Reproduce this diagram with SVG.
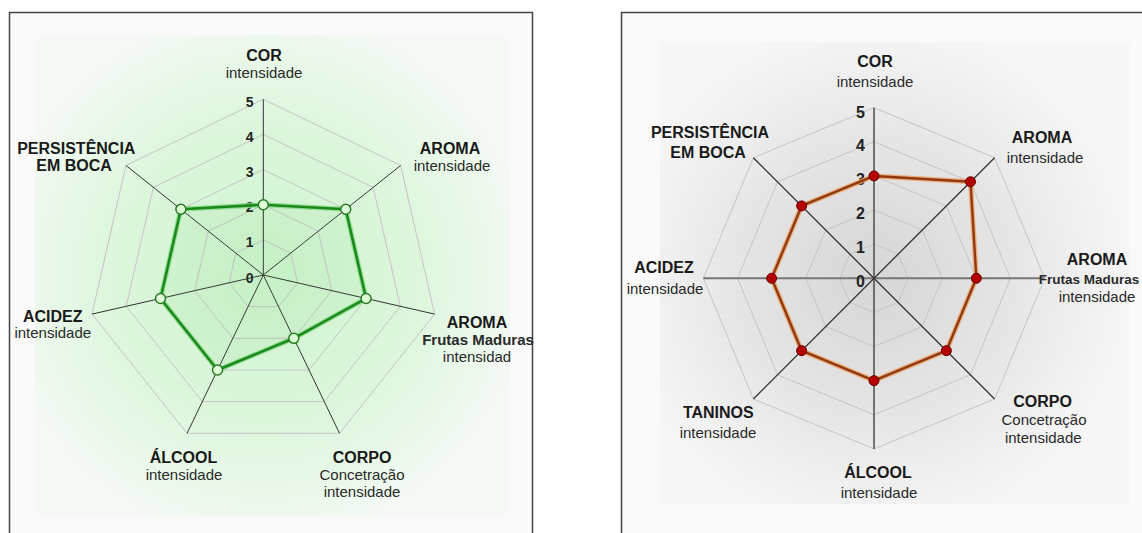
<svg xmlns="http://www.w3.org/2000/svg" width="1142" height="533" viewBox="0 0 1142 533">
<defs>
<radialGradient id="gGreen" gradientUnits="userSpaceOnUse" cx="263" cy="275" r="270">
<stop offset="0" stop-color="#cff4cf"/>
<stop offset="0.55" stop-color="#dcf6dc"/>
<stop offset="0.85" stop-color="#ecf9ec"/>
<stop offset="1" stop-color="#f6f9f6"/>
</radialGradient>
<radialGradient id="gGrey" gradientUnits="userSpaceOnUse" cx="874" cy="278" r="265">
<stop offset="0" stop-color="#d6d6d6"/>
<stop offset="0.5" stop-color="#e5e5e5"/>
<stop offset="0.85" stop-color="#f2f2f2"/>
<stop offset="1" stop-color="#f7f7f7"/>
</radialGradient>
<style>
text{font-family:"Liberation Sans",Arial,sans-serif;text-anchor:middle}
.t{font-size:16px;font-weight:bold;fill:#1a1a1a}
.s{font-size:15px;fill:#2a2a2a}
.sb{font-size:15px;font-weight:bold;fill:#2a2a2a}
.n{font-size:14px;font-weight:bold;fill:#222;text-anchor:end}
.n2{font-size:16px;font-weight:bold;fill:#222;text-anchor:end}
.frame{fill:#fafafa;stroke:#444;stroke-width:1.5}
.grid{fill:none;stroke:#c4c4c4;stroke-width:1}
.ax{stroke:#333;stroke-width:1}
.ax2{stroke:#333;stroke-width:1.3}
.axh{stroke:#777;stroke-width:2}
.gHalo{fill:rgba(80,200,80,0.08);stroke:#86d886;stroke-width:5;stroke-linejoin:round;opacity:0.8}
.gLine{fill:none;stroke:#1a8a1a;stroke-width:2.6;stroke-linejoin:round}
.gDot{fill:#ddffd5;stroke:#2a7a2a;stroke-width:1.5}
.oHalo{fill:none;stroke:#f0a060;stroke-width:5;stroke-linejoin:round;opacity:0.8}
.oLine{fill:none;stroke:#8f3a12;stroke-width:2.4;stroke-linejoin:round}
.oDot{fill:#b40000;stroke:#6a0000;stroke-width:1}
</style>
</defs>
<rect x="0" y="0" width="1142" height="533" fill="#ffffff"/>

<!-- LEFT CHART -->
<g id="chart-left">
<rect class="frame" x="9.5" y="12.5" width="523" height="540"/>
<rect x="35" y="35" width="475" height="482" fill="url(#gGreen)"/>
<g id="left-grid" transform="translate(263.3,275)">
<polygon class="grid" points="0,-175.7 137.37,-109.55 171.29,39.1 76.23,158.3 -76.23,158.3 -171.29,39.1 -137.37,-109.55"/>
<polygon class="grid" points="0,-140.56 109.9,-87.64 137.03,31.28 60.98,126.64 -60.98,126.64 -137.03,31.28 -109.9,-87.64"/>
<polygon class="grid" points="0,-105.42 82.42,-65.73 102.77,23.46 45.74,94.98 -45.74,94.98 -102.77,23.46 -82.42,-65.73"/>
<polygon class="grid" points="0,-70.28 54.95,-43.82 68.52,15.64 30.49,63.32 -30.49,63.32 -68.52,15.64 -54.95,-43.82"/>
<polygon class="grid" points="0,-35.14 27.47,-21.91 34.26,7.82 15.25,31.66 -15.25,31.66 -34.26,7.82 -27.47,-21.91"/>
</g>
<g id="left-connectors" transform="translate(263.3,275)">
<line class="ax" x1="0" y1="0" x2="0" y2="-175.7"/>
<line class="ax" x1="0" y1="0" x2="137.37" y2="-109.55"/>
<line class="ax" x1="0" y1="0" x2="171.29" y2="39.1"/>
<line class="ax" x1="0" y1="0" x2="76.23" y2="158.3"/>
<line class="ax" x1="0" y1="0" x2="-76.23" y2="158.3"/>
<line class="ax" x1="0" y1="0" x2="-171.29" y2="39.1"/>
<line class="ax" x1="0" y1="0" x2="-137.37" y2="-109.55"/>
</g>
<g id="left-scale">
<text class="n" x="253.5" y="106.8">5</text>
<text class="n" x="253.5" y="141.9">4</text>
<text class="n" x="253.5" y="177.1">3</text>
<text class="n" x="253.5" y="212.2">2</text>
<text class="n" x="253.5" y="247.4">1</text>
<text class="n" x="253.5" y="282.5">0</text>
</g>
<g id="left-series" transform="translate(263.3,275)">
<polygon class="gHalo" points="0,-70.28 82.42,-65.73 102.77,23.46 30.49,63.32 -45.74,94.98 -102.77,23.46 -82.42,-65.73"/>
<polygon class="gLine" points="0,-70.28 82.42,-65.73 102.77,23.46 30.49,63.32 -45.74,94.98 -102.77,23.46 -82.42,-65.73"/>
<circle class="gDot" cx="0" cy="-70.28" r="5"/>
<circle class="gDot" cx="82.42" cy="-65.73" r="5"/>
<circle class="gDot" cx="102.77" cy="23.46" r="5"/>
<circle class="gDot" cx="30.49" cy="63.32" r="5"/>
<circle class="gDot" cx="-45.74" cy="94.98" r="5"/>
<circle class="gDot" cx="-102.77" cy="23.46" r="5"/>
<circle class="gDot" cx="-82.42" cy="-65.73" r="5"/>
</g>
<g id="L-cor"><text class="t" x="264" y="61">COR</text><text class="s" x="264" y="78">intensidade</text></g>
<g id="L-aroma"><text class="t" x="450" y="154">AROMA</text><text class="s" x="452" y="171">intensidade</text></g>
<g id="L-aroma-frutas"><text class="t" x="477" y="328">AROMA</text><text class="sb" x="478" y="345">Frutas Maduras</text><text class="s" x="477" y="362">intensidad</text></g>
<g id="L-corpo"><text class="t" x="362" y="463">CORPO</text><text class="s" x="362" y="480">Concetração</text><text class="s" x="362" y="497">intensidade</text></g>
<g id="L-alcool"><text class="t" x="183.5" y="463">ÁLCOOL</text><text class="s" x="184" y="480">intensidade</text></g>
<g id="L-acidez"><text class="t" x="52.7" y="321.7">ACIDEZ</text><text class="s" x="52.8" y="338.3">intensidade</text></g>
<g id="L-persistencia"><text class="t" x="76.3" y="154">PERSISTÊNCIA</text><text class="t" x="74" y="171">EM BOCA</text></g>
</g>

<!-- RIGHT CHART -->
<g id="chart-right">
<rect class="frame" x="621.5" y="12.5" width="540" height="540"/>
<rect x="660" y="42" width="470" height="462" fill="url(#gGrey)"/>
<g id="right-grid" transform="translate(874,278.3)">
<polygon class="grid" points="0,-170.6 120.63,-120.63 170.6,0 120.63,120.63 0,170.6 -120.63,120.63 -170.6,0 -120.63,-120.63"/>
<polygon class="grid" points="0,-136.48 96.51,-96.51 136.48,0 96.51,96.51 0,136.48 -96.51,96.51 -136.48,0 -96.51,-96.51"/>
<polygon class="grid" points="0,-102.36 72.38,-72.38 102.36,0 72.38,72.38 0,102.36 -72.38,72.38 -102.36,0 -72.38,-72.38"/>
<polygon class="grid" points="0,-68.24 48.25,-48.25 68.24,0 48.25,48.25 0,68.24 -48.25,48.25 -68.24,0 -48.25,-48.25"/>
<polygon class="grid" points="0,-34.12 24.13,-24.13 34.12,0 24.13,24.13 0,34.12 -24.13,24.13 -34.12,0 -24.13,-24.13"/>
</g>
<g id="right-connectors" transform="translate(874,278.3)">
<line class="ax2" x1="0" y1="-170.6" x2="0" y2="170.6"/>
<line class="axh" x1="-170.6" y1="0" x2="170.6" y2="0"/>
<line class="ax2" x1="-120.63" y1="-120.63" x2="120.63" y2="120.63"/>
<line class="ax2" x1="120.63" y1="-120.63" x2="-120.63" y2="120.63"/>
</g>
<g id="right-scale">
<text class="n2" x="865" y="117.5">5</text>
<text class="n2" x="865" y="150.5">4</text>
<text class="n2" x="865" y="184.5">3</text>
<text class="n2" x="865" y="218.6">2</text>
<text class="n2" x="865" y="252.7">1</text>
<text class="n2" x="865" y="286.5">0</text>
</g>
<g id="right-series" transform="translate(874,278.3)">
<polygon class="oHalo" points="0,-102.36 96.51,-96.51 102.36,0 72.38,72.38 0,102.36 -72.38,72.38 -102.36,0 -72.38,-72.38"/>
<polygon class="oLine" points="0,-102.36 96.51,-96.51 102.36,0 72.38,72.38 0,102.36 -72.38,72.38 -102.36,0 -72.38,-72.38"/>
<circle class="oDot" cx="0" cy="-102.36" r="5"/>
<circle class="oDot" cx="96.51" cy="-96.51" r="5"/>
<circle class="oDot" cx="102.36" cy="0" r="5"/>
<circle class="oDot" cx="72.38" cy="72.38" r="5"/>
<circle class="oDot" cx="0" cy="102.36" r="5"/>
<circle class="oDot" cx="-72.38" cy="72.38" r="5"/>
<circle class="oDot" cx="-102.36" cy="0" r="5"/>
<circle class="oDot" cx="-72.38" cy="-72.38" r="5"/>
</g>
<g id="R-cor"><text class="t" x="875" y="67">COR</text><text class="s" x="875" y="87">intensidade</text></g>
<g id="R-aroma"><text class="t" x="1042" y="143">AROMA</text><text class="s" x="1045" y="163">intensidade</text></g>
<g id="R-aroma-frutas"><text class="t" x="1097" y="265">AROMA</text><text class="sb" x="1089" y="284" style="font-size:13.5px">Frutas Maduras</text><text class="s" x="1097" y="302">intensidade</text></g>
<g id="R-corpo"><text class="t" x="1042.5" y="406.7">CORPO</text><text class="s" x="1044" y="424.5">Concetração</text><text class="s" x="1043.3" y="443">intensidade</text></g>
<g id="R-alcool"><text class="t" x="878" y="478.3">ÁLCOOL</text><text class="s" x="879" y="498.3">intensidade</text></g>
<g id="R-taninos"><text class="t" x="718.3" y="418.3">TANINOS</text><text class="s" x="718" y="438.3">intensidade</text></g>
<g id="R-acidez"><text class="t" x="664" y="273.3">ACIDEZ</text><text class="s" x="665" y="293.5">intensidade</text></g>
<g id="R-persistencia"><text class="t" x="710" y="138.3">PERSISTÊNCIA</text><text class="t" x="708" y="158.3">EM BOCA</text></g>
</g>
</svg>
